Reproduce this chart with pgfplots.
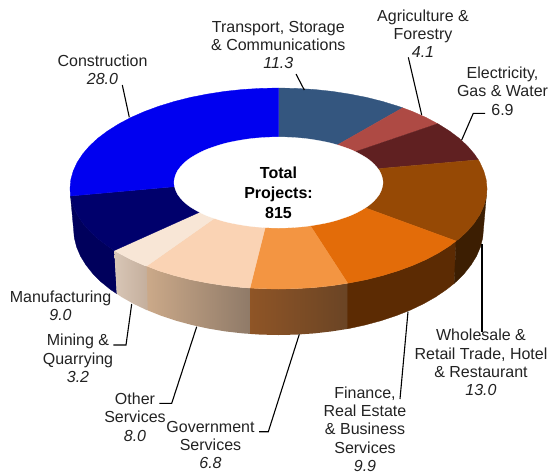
\documentclass[border=0pt]{standalone}
\usepackage{pgfplots}
\usepackage{fontspec}
\setmainfont{Liberation Sans}
\pgfplotsset{compat=1.18}
\definecolor{cTrans}{HTML}{34567F}
\definecolor{cAgri}{HTML}{AE4A44}
\definecolor{cElec}{HTML}{602021}
\definecolor{cWhole}{HTML}{964905}
\definecolor{cFin}{HTML}{E36C09}
\definecolor{cGov}{HTML}{F39542}
\definecolor{cOther}{HTML}{FAD3B4}
\definecolor{cMin}{HTML}{F8E6D6}
\definecolor{cManu}{HTML}{00006C}
\definecolor{cManuS}{HTML}{00005C}
\definecolor{cCons}{HTML}{0000F0}
\definecolor{tx}{HTML}{222222}
\definecolor{sMinL}{HTML}{D8C6B6}
\definecolor{sMinR}{HTML}{C4AE9C}
\definecolor{sOthL}{HTML}{CBA989}
\definecolor{sOthR}{HTML}{8F7A68}
\definecolor{sGovL}{HTML}{8F5526}
\definecolor{sGovR}{HTML}{6A4425}
\definecolor{sFin}{HTML}{5C2B03}
\definecolor{sWhole}{HTML}{3C1E02}
\tikzset{lbl/.style={align=center, inner sep=0pt, text=tx, font=\fontsize{16}{18.3}\selectfont}}
\begin{document}
\begin{tikzpicture}
\begin{axis}[
  scale only axis, width=551pt, height=475pt,
  xmin=0, xmax=551, ymin=0, ymax=475, y dir=reverse,
  hide axis, clip=false,
]
\path (axis cs:0,0) rectangle (axis cs:551,475);
% side faces
\addplot[draw=cManuS, fill=cManuS, line width=.3pt] coordinates {(70.5,196)(70.8,197.3)(73.2,205.9)(77.1,214.5)(82.6,222.9)(89.5,231)(97.9,238.8)(107.7,246.1)(114.3,250.5)(116.7,293.7)(110.6,289.6)(101,281.8)(92.7,273.5)(85.9,264.9)(80.5,256.1)(76.6,247)(74.3,237.8)(73.5,228.5)} -- cycle;
\addplot[draw=none, left color=sMinL, right color=sMinR] coordinates {(114.3,250.5)(118.8,253.1)(131.1,259.6)(144.5,265.5)(147.2,266)(148.2,310.2)(146.7,310.1)(133.5,303.8)(121.5,297)(116.7,293.7)} -- cycle;
\addplot[draw=none, left color=sOthL, right color=sOthR] coordinates {(146.7,266)(158.9,270.8)(174.2,275.5)(190.4,279.6)(207.2,282.9)(224.5,285.6)(242.3,287.5)(250.5,288)(250.5,333.9)(242.9,333.4)(225.4,331.4)(208.4,328.6)(191.9,325)(176,320.7)(160.9,315.7)(147.7,310.4)} -- cycle;
\addplot[draw=none, left color=sGovL, right color=sGovR] coordinates {(250,288)(260.3,288.6)(278.5,289)(296.7,288.6)(314.7,287.5)(332.5,285.6)(348.2,283.2)(348.2,328.8)(331.6,331.4)(314.1,333.4)(296.4,334.6)(278.5,335)(260.6,334.6)(250,333.9)} -- cycle;
\addplot[draw=sFin, fill=sFin, line width=.3pt] coordinates {(347.7,283.2)(349.8,282.9)(366.6,279.6)(382.8,275.5)(398.1,270.8)(412.5,265.5)(425.9,259.6)(438.2,253.1)(449.3,246.1)(456,241)(454.3,283.3)(446.4,289.6)(435.5,297)(423.5,303.8)(410.3,310.1)(396.1,315.7)(381,320.7)(365.1,325)(348.6,328.6)(347.7,328.8)} -- cycle;
\addplot[draw=sWhole, fill=sWhole, line width=.3pt] coordinates {(456,241)(459.1,238.8)(467.5,231)(474.4,222.9)(479.9,214.5)(483.8,205.9)(486.2,197.3)(487,188.5)(483.5,228.5)(482.7,237.8)(480.4,247)(476.5,256.1)(471.1,264.9)(464.3,273.5)(456,281.8)(454.3,283.3)} -- cycle;
% top faces
\addplot[draw=cTrans, fill=cTrans, line width=.3pt] coordinates {(278.5,88)(296.7,88.4)(314.7,89.5)(332.5,91.4)(349.8,94.1)(366.6,97.4)(382.8,101.5)(398.1,106.2)(402.7,107.8)(339,144)(278.5,182.5)(278.5,137)} -- cycle;
\addplot[draw=cAgri, fill=cAgri, line width=.3pt] coordinates {(402.7,107.8)(412.5,111.5)(425.9,117.4)(437.7,123.7)(358.3,150.7)(278.5,182.5)(339,144)} -- cycle;
\addplot[draw=cElec, fill=cElec, line width=.3pt] coordinates {(437.7,123.7)(438.2,123.9)(449.3,130.9)(459.1,138.2)(467.5,146)(474.4,154.1)(478.3,159.8)(382.3,168.3)(278.5,182.5)(358.3,150.7)} -- cycle;
\addplot[draw=cWhole, fill=cWhole, line width=.3pt] coordinates {(478.3,159.8)(479.9,162.5)(483.8,171.1)(486.2,179.7)(487,188.5)(486.2,197.3)(483.8,205.9)(479.9,214.5)(474.4,222.9)(467.5,231)(459.1,238.8)(456,241)(366.7,208.3)(278.5,182.5)(382.3,168.3)} -- cycle;
\addplot[draw=cFin, fill=cFin, line width=.3pt] coordinates {(456,241)(449.3,246.1)(438.2,253.1)(425.9,259.6)(412.5,265.5)(398.1,270.8)(382.8,275.5)(366.6,279.6)(349.8,282.9)(347.7,283.2)(311,226.7)(278.5,182.5)(366.7,208.3)} -- cycle;
\addplot[draw=cGov, fill=cGov, line width=.3pt] coordinates {(347.7,283.2)(332.5,285.6)(314.7,287.5)(296.7,288.6)(278.5,289)(260.3,288.6)(250,288)(265,228.3)(278.5,182.5)(311,226.7)} -- cycle;
\addplot[draw=cOther, fill=cOther, line width=.3pt] coordinates {(250,288)(242.3,287.5)(224.5,285.6)(207.2,282.9)(190.4,279.6)(174.2,275.5)(158.9,270.8)(146.7,266)(213,219.3)(278.5,182.5)(265,228.3)} -- cycle;
\addplot[draw=cMin, fill=cMin, line width=.3pt] coordinates {(146.7,266)(144.5,265.5)(131.1,259.6)(118.8,253.1)(114.3,250.5)(199.3,212.3)(278.5,182.5)(213,219.3)} -- cycle;
\addplot[draw=cManu, fill=cManu, line width=.3pt] coordinates {(114.3,250.5)(107.7,246.1)(97.9,238.8)(89.5,231)(82.6,222.9)(77.1,214.5)(73.2,205.9)(70.8,197.3)(70.5,196)(174.3,186.7)(278.5,182.5)(199.3,212.3)} -- cycle;
\addplot[draw=cCons, fill=cCons, line width=.3pt] coordinates {(70.5,196)(70,188.5)(70.8,179.7)(73.2,171.1)(77.1,162.5)(82.6,154.1)(89.5,146)(97.9,138.2)(107.7,130.9)(118.8,123.9)(131.1,117.4)(144.5,111.5)(158.9,106.2)(174.2,101.5)(190.4,97.4)(207.2,94.1)(224.5,91.4)(242.3,89.5)(260.3,88.4)(278.5,88)(278.5,137)(278.5,182.5)(174.3,186.7)} -- cycle;
% hole
\addplot[draw=white, fill=white, line width=.3pt, smooth cycle] coordinates {(383,182.5)(379.4,170.7)(369,159.7)(352.4,150.3)(330.8,143.1)(305.5,138.6)(278.5,137)(251.5,138.6)(226.2,143.1)(204.6,150.3)(188,159.7)(177.6,170.7)(174,182.5)(177.6,194.3)(188,205.3)(204.6,214.7)(226.2,221.9)(251.5,226.4)(278.5,228)(305.5,226.4)(330.8,221.9)(352.4,214.7)(369,205.3)(379.4,194.3)};
% leaders
\addplot[black, line width=1.1pt] coordinates {(122.3,85)(129.3,117.3)};
\addplot[black, line width=1.1pt] coordinates {(296,74)(304.3,90)};
\addplot[black, line width=1.1pt] coordinates {(408.3,57.3)(421.7,115)};
\addplot[black, line width=1.1pt] coordinates {(485,113.3)(473.3,113.3)(461.7,140)};
\addplot[black, line width=1.1pt] coordinates {(482,244.3)(482,332)};
\addplot[black, line width=1.1pt] coordinates {(408,311.7)(400,399)};
\addplot[black, line width=1.1pt] coordinates {(299.3,334.3)(268.3,431.7)(259,431.7)};
\addplot[black, line width=1.1pt] coordinates {(196.7,326.7)(171.7,403.3)(159.3,403.3)};
\addplot[black, line width=1.1pt] coordinates {(131.7,304)(126,345)(113.3,345)};
% labels
\node[lbl] at (axis cs:102.5,69.5) {Construction\\\textit{28.0}};
\node[lbl] at (axis cs:278.3,45) {Transport, Storage\\\& Communications\\\textit{11.3}};
\node[lbl] at (axis cs:423,33.5) {Agriculture \&\\Forestry\\\textit{4.1}};
\node[lbl] at (axis cs:502.5,91) {Electricity,\\Gas \& Water\\6.9};
\node[lbl] at (axis cs:481,362.5) {Wholesale \&\\Retail Trade, Hotel\\\& Restaurant\\\textit{13.0}};
\node[lbl] at (axis cs:365,429) {Finance,\\Real Estate\\\& Business\\Services\\\textit{9.9}};
\node[lbl] at (axis cs:210.5,445) {Government\\Services\\\textit{6.8}};
\node[lbl] at (axis cs:135,417) {Other\\Services\\\textit{8.0}};
\node[lbl] at (axis cs:78,358.5) {Mining \&\\Quarrying\\\textit{3.2}};
\node[lbl] at (axis cs:60.5,305.5) {Manufacturing\\\textit{9.0}};
\node[lbl, font=\fontsize{16}{20}\selectfont\bfseries, text=black] at (axis cs:278.5,193) {Total\\Projects:\\815};
\end{axis}
\end{tikzpicture}
\end{document}
